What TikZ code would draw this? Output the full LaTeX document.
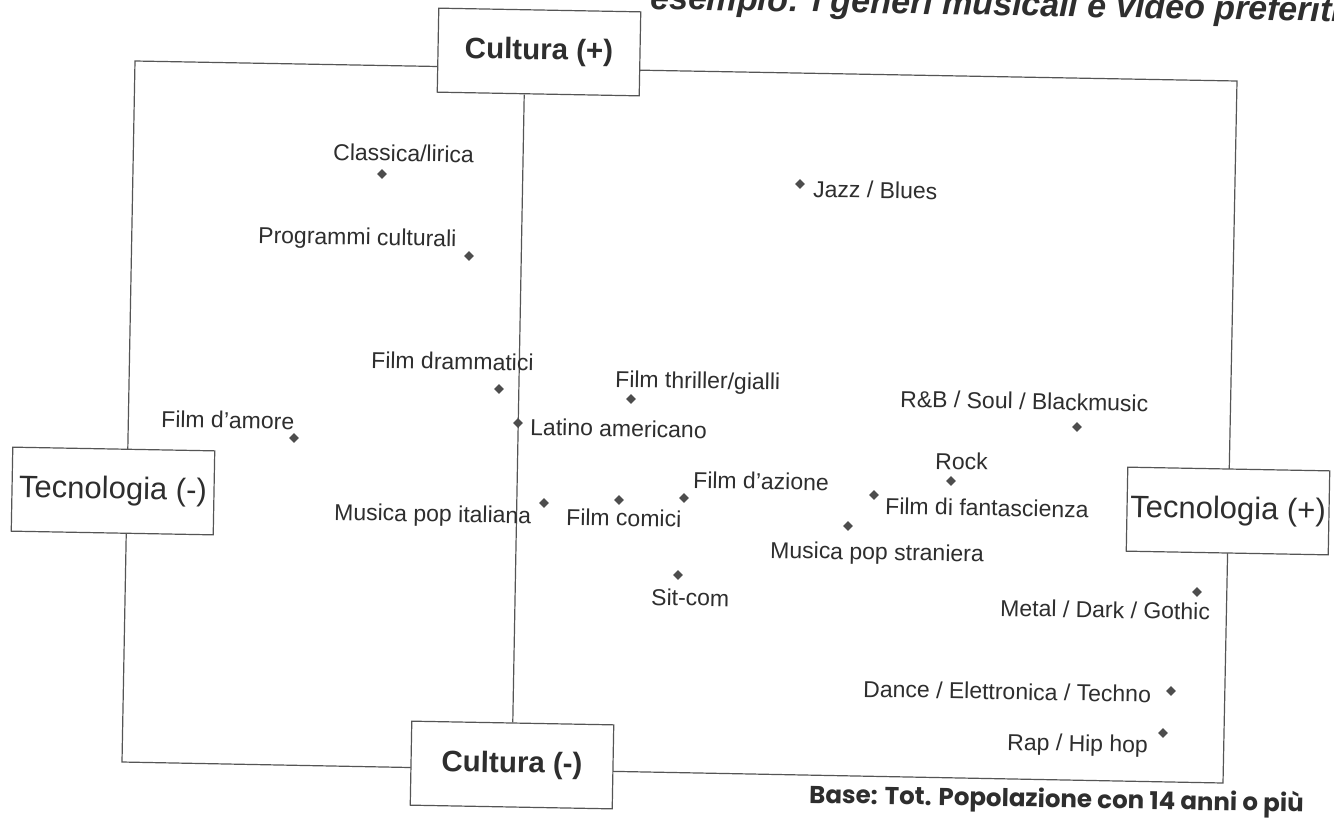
\documentclass[tikz,border=0pt]{standalone}
\usepackage{fontspec}
\setmainfont{Liberation Sans}
\newfontfamily\basefont{Poppins}
\usetikzlibrary{shapes.geometric}
\definecolor{ink}{HTML}{2E2E2E}
\definecolor{linec}{HTML}{555555}
\tikzset{
  lbl/.style={anchor=base west, inner sep=0pt, rotate=-1.05, text=ink,
              font=\fontsize{23}{23}\selectfont},
  pt/.style={diamond, fill=ink!85, inner sep=0pt, minimum size=10pt},
  axbox/.style={draw=linec, line width=1.2pt, fill=white, rotate=-1.05,
                minimum width=202pt, minimum height=84pt, inner sep=0pt, text=ink},
  culfont/.style={font=\bfseries\fontsize{29.5}{30}\selectfont},
  tecfont/.style={font=\fontsize{31}{31}\selectfont},
  frameline/.style={draw=linec, line width=1.2pt},
}
\begin{document}
\begin{tikzpicture}[x=1pt,y=-1pt]
\useasboundingbox (0,0) rectangle (1334,820);
\fill[white] (0,0) rectangle (1334,820);

% title (only lower part visible, as in the scan)
\node[anchor=base west, inner sep=0pt, rotate=-1.05, text=ink,
      font=\bfseries\itshape\fontsize{34}{34}\selectfont] (title) at (650,9)
      {esempio: i generi musicali e video preferiti};

% frame
\coordinate (fTL) at (135,61);
\coordinate (fTR) at (1237,81);
\coordinate (fBR) at (1223,783);
\coordinate (fBL) at (122,762);
\draw[frameline] (fTL) -- (fTR) -- (fBR) -- (fBL) -- cycle;

% axis boxes
\node[axbox, culfont] (cp) at (539,52) {Cultura (+)};
\node[axbox, culfont] (cm) at (512,765) {Cultura (-)};
\node[axbox, tecfont] (tm) at (113,491) {Tecnologia (-)};
\node[axbox, tecfont] (tp) at (1228,511) {Tecnologia (+)};

% vertical axis
\draw[frameline] ([xshift=-14pt]cp.south) -- (cm.north);

% points
\node[pt] (d1)  at (382,174) {};
\node[pt] (d2)  at (469,256) {};
\node[pt] (d3)  at (499,389) {};
\node[pt] (d4)  at (631,399) {};
\node[pt] (d5)  at (800,184) {};
\node[pt] (d6)  at (294,438) {};
\node[pt] (d7)  at (518,423) {};
\node[pt] (d8)  at (1077,427) {};
\node[pt] (d9)  at (951,481) {};
\node[pt] (d10) at (684,498) {};
\node[pt] (d11) at (544,503) {};
\node[pt] (d12) at (619,500) {};
\node[pt] (d13) at (874,495) {};
\node[pt] (d14) at (848,526) {};
\node[pt] (d15) at (678,575) {};
\node[pt] (d16) at (1197,592) {};
\node[pt] (d17) at (1171,691) {};
\node[pt] (d18) at (1163,733) {};

% labels
\node[lbl] (l1)  at (333,160) {Classica/lirica};
\node[lbl] (l2)  at (258,243) {Programmi culturali};
\node[lbl] (l3)  at (371,368) {Film drammatici};
\node[lbl] (l4)  at (615,387) {Film thriller/gialli};
\node[lbl] (l5)  at (813,197) {Jazz / Blues};
\node[lbl] (l6)  at (161,427) {Film d'amore};
\node[lbl] (l7)  at (530,435) {Latino americano};
\node[lbl] (l8)  at (900,407) {R\&B / Soul / Blackmusic};
\node[lbl] (l9)  at (935,469) {Rock};
\node[lbl] (l10) at (693,488) {Film d'azione};
\node[lbl] (l11) at (334,520) {Musica pop italiana};
\node[lbl] (l12) at (566,525) {Film comici};
\node[lbl] (l13) at (885,514) {Film di fantascienza};
\node[lbl] (l14) at (770,558) {Musica pop straniera};
\node[lbl] (l15) at (651,605) {Sit-com};
\node[lbl] (l16) at (1000,616) {Metal / Dark / Gothic};
\node[lbl] (l17) at (863,697) {Dance / Elettronica / Techno};
\node[lbl] (l18) at (1007,750) {Rap / Hip hop};

% base note
\node[anchor=base west, inner sep=0pt, rotate=-1.05, text=ink,
      font=\basefont\bfseries\fontsize{24.5}{25}\selectfont] (base) at (809,803)
      {Base: Tot. Popolazione con 14 anni o più};
\end{tikzpicture}
\end{document}
